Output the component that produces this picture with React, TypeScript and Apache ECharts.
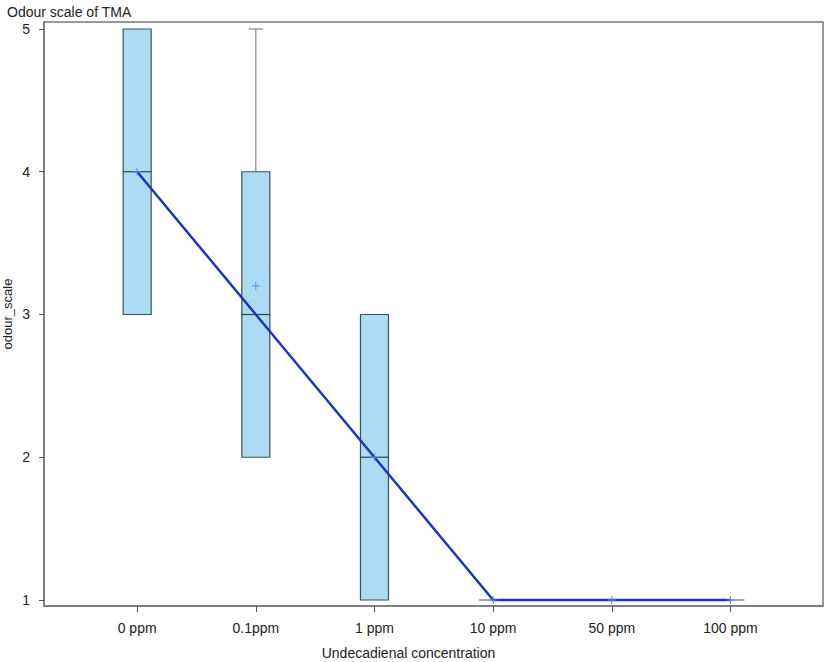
import React, { useEffect, useRef } from "react";
import * as echarts from "echarts";

const categories = ["0 ppm", "0.1ppm", "1 ppm", "10 ppm", "50 ppm", "100 ppm"];
// [min, q1, median, q3, max]
const boxMin = [3, 2, 1, 1, 1, 1];
const boxQ1 = [3, 2, 1, 1, 1, 1];
const boxMedian = [4, 3, 2, 1, 1, 1];
const boxQ3 = [5, 4, 3, 1, 1, 1];
const boxMax = [5, 5, 3, 1, 1, 1];
const means = [4, 3.2, 2, 1, 1, 1];
const yTicks = [1, 2, 3, 4, 5];

export default function App() {
  const ref = useRef<HTMLDivElement>(null);
  useEffect(() => {
    if (!ref.current) return;
    const chart = echarts.init(ref.current, undefined, { renderer: "svg" });
    const idx = categories.map((_, i) => i);
    const boxData = idx.map((i) => [i, boxMin[i], boxQ1[i], boxMedian[i], boxQ3[i], boxMax[i]]);
    const font = "Liberation Sans, Arial, sans-serif";
    chart.setOption({
      animation: false,
      title: {
        text: "Odour scale of TMA",
        left: 2,
        top: 0,
        textStyle: { fontFamily: font, fontSize: 14, fontWeight: "normal", color: "#222" },
      },
      grid: {
        left: 44,
        top: 22,
        right: 4,
        bottom: 56,
        containLabel: false,
        outerBoundsMode: "none",
        show: true,
        borderColor: "#777",
        borderWidth: 1.5,
        backgroundColor: "#fff",
      },
      xAxis: {
        type: "value",
        min: -0.785,
        max: 5.78,
        name: "Undecadienal concentration",
        nameLocation: "middle",
        nameGap: 40,
        nameMoveOverlap: false,
        nameTextStyle: { fontFamily: font, fontSize: 14, color: "#222", padding: [0, 50, 0, 0] },
        splitLine: { show: false },
        axisLine: { show: true, onZero: false, lineStyle: { color: "#777", width: 1.5 } },
        axisTick: { show: true, length: 6, customValues: idx, lineStyle: { color: "#555" } },
        axisLabel: {
          customValues: idx,
          margin: 15,
          fontFamily: font,
          fontSize: 14,
          color: "#222",
          formatter: (v: number) => categories[Math.round(v)] ?? "",
        },
      },
      yAxis: {
        type: "value",
        min: 0.958,
        max: 5.049,
        name: "odour_scale",
        nameLocation: "middle",
        nameGap: 30,
        nameMoveOverlap: false,
        nameRotate: 90,
        nameTextStyle: { fontFamily: font, fontSize: 13, color: "#222" },
        splitLine: { show: false },
        axisLine: { show: true, onZero: false, lineStyle: { color: "#777", width: 1.5 } },
        axisTick: { show: true, length: 5, customValues: yTicks, lineStyle: { color: "#555" } },
        axisLabel: {
          customValues: yTicks,
          margin: 14,
          fontFamily: font,
          fontSize: 14,
          color: "#222",
        },
      },
      series: [
        {
          type: "custom",
          data: boxData,
          encode: { x: 0, y: [1, 2, 3, 4, 5] },
          renderItem: (params: any, api: any) => {
            const x = api.value(0);
            const vmin = api.value(1);
            const q1 = api.value(2);
            const med = api.value(3);
            const q3 = api.value(4);
            const vmax = api.value(5);
            const c = api.coord([x, med]);
            const pMin = api.coord([x, vmin]);
            const pQ1 = api.coord([x, q1]);
            const pQ3 = api.coord([x, q3]);
            const pMax = api.coord([x, vmax]);
            const half = 14;
            const cap = 7;
            const children: any[] = [];
            const wStyle = { stroke: "#888", lineWidth: 1.2 };
            if (vmax > q3) {
              children.push({ type: "line", shape: { x1: c[0], y1: pQ3[1], x2: c[0], y2: pMax[1] }, style: wStyle });
              children.push({ type: "line", shape: { x1: c[0] - cap, y1: pMax[1], x2: c[0] + cap, y2: pMax[1] }, style: wStyle });
            }
            if (vmin < q1) {
              children.push({ type: "line", shape: { x1: c[0], y1: pQ1[1], x2: c[0], y2: pMin[1] }, style: wStyle });
              children.push({ type: "line", shape: { x1: c[0] - cap, y1: pMin[1], x2: c[0] + cap, y2: pMin[1] }, style: wStyle });
            }
            if (q3 > q1) {
              children.push({
                type: "rect",
                shape: { x: c[0] - half, y: pQ3[1], width: half * 2, height: pQ1[1] - pQ3[1] },
                style: { fill: "#abdcf3", stroke: "#3a5058", lineWidth: 1.2 },
              });
              children.push({
                type: "line",
                shape: { x1: c[0] - half, y1: c[1], x2: c[0] + half, y2: c[1] },
                style: { stroke: "#2f4048", lineWidth: 1.2 },
              });
            } else {
              children.push({
                type: "line",
                shape: { x1: c[0] - half, y1: c[1], x2: c[0] + half, y2: c[1] },
                style: { stroke: "#888", lineWidth: 1.5 },
              });
            }
            return { type: "group", children };
          },
          z: 2,
        },
        {
          type: "line",
          data: idx.map((i) => [i, boxMedian[i]]),
          symbol: "none",
          lineStyle: { color: "#1a34c4", width: 2.5 },
          z: 3,
        },
        {
          type: "custom",
          data: idx.map((i) => [i, means[i]]),
          encode: { x: 0, y: 1 },
          renderItem: (params: any, api: any) => {
            const p = api.coord([api.value(0), api.value(1)]);
            const s = 4;
            const st = { stroke: "#5a86e6", lineWidth: 1 };
            return {
              type: "group",
              children: [
                { type: "line", shape: { x1: p[0] - s, y1: p[1], x2: p[0] + s, y2: p[1] }, style: st },
                { type: "line", shape: { x1: p[0], y1: p[1] - s, x2: p[0], y2: p[1] + s }, style: st },
              ],
            };
          },
          z: 4,
        },
      ],
    });
    return () => chart.dispose();
  }, []);
  return <div ref={ref} style={{ width: 827, height: 662, position: "absolute", left: 0, top: 0 }} />;
}
